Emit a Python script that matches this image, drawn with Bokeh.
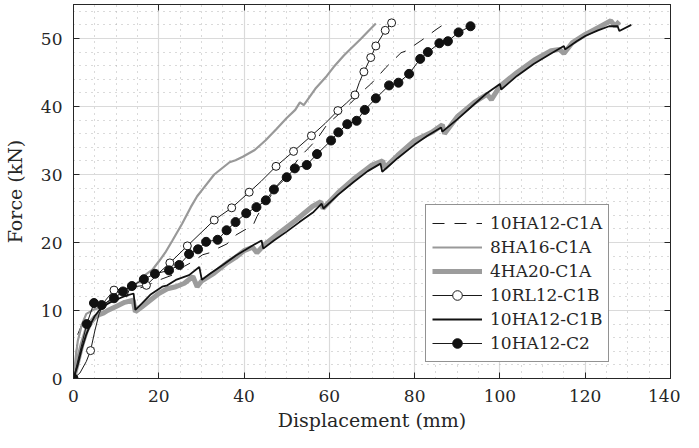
from bokeh.plotting import figure
from bokeh.models import LinearAxis, SingleIntervalTicker, Legend
from bokeh.embed import file_html
from bokeh.resources import INLINE

# ---------------- data ----------------
c1a_x = [0, 0.5, 1, 2, 3, 5, 7, 9, 11, 12.5, 13, 15, 17, 19, 21, 24, 26, 28, 30.3, 32, 34, 36,
         38.1, 40, 42.1, 43, 44.1, 46, 47.5, 49.2, 51, 53.1, 55, 57.1, 59.4, 61, 63, 65, 67,
         69.7, 71.5, 73.2, 75, 76.8, 78.5, 79.9, 82, 83.5, 85, 86.4]
c1a_y = [0, 3, 6.5, 8, 9.5, 10.3, 10.8, 11.8, 12.4, 12.0, 13, 13.2, 13.6, 14.2, 14.7, 15.4, 16.5,
         17.2, 18.2, 18.5, 19.2, 19.8, 21.1, 21.8, 22.5, 23.8, 25.0, 26.6, 28.2, 29.4, 30.8,
         32.6, 33.8, 35.2, 37.3, 38.2, 39.3, 40.5, 41.8, 43.3, 44.5, 45.7, 46.8, 47.9, 48.3,
         49.0, 49.9, 50.6, 51.3, 51.9]

ha16_x = [0, 0.5, 1, 2, 3, 5, 7, 9, 11, 13, 15.3, 17, 18.5, 20, 21.5, 23.2, 25.5, 27.5, 29,
          30.5, 33, 36.6, 38, 39.7, 42.5, 45, 47.6, 50, 52, 53.1, 54, 56.7, 59.4, 61, 63.4,
          65, 67.3, 69, 70.9]
ha16_y = [0, 3, 5.5, 8, 9.5, 10.2, 10.5, 11.5, 12.5, 13.2, 14.2, 15.3, 16, 17.2, 18.5, 20.3,
          22.8, 25.2, 26.8, 28.0, 30.0, 31.8, 32.1, 32.6, 33.6, 35, 36.7, 38.3, 39.5, 40.6, 40.2,
          42.6, 44.5, 45.8, 47.5, 48.5, 49.9, 51, 52.2]

ha20_x = [0, 1, 2, 3, 4, 5, 6, 7, 8, 10, 12, 14, 14.5, 16, 18, 20, 22, 24, 26, 28, 29, 30, 33,
          36, 38, 40, 42, 43, 45, 48, 52, 56, 58, 58.5, 62, 66, 70, 72.5, 73, 76, 80, 84,
          86.5, 87, 90, 94, 97, 98, 100, 104, 108, 112, 114, 115, 117, 120, 123, 126, 127, 128]
ha20_y = [0, 2.5, 5, 7, 8.2, 9, 9.4, 9.6, 10, 10.6, 11.2, 11.5, 9.8, 10.5, 11.5, 12.5, 13.2,
          13.5, 14, 15, 13.5, 14.3, 15.5, 17, 17.8, 18.8, 19.3, 18.5, 19.8, 21.3, 23.2, 25.3,
          26.0, 25.0, 27.3, 29.5, 31.4, 32.0, 31.0, 32.8, 35, 36.2, 37.3, 36, 38.5, 40.6, 41.8,
          41.0, 43, 45, 46.8, 48.2, 48.4, 47.8, 49.4, 50.6, 51.6, 52.6, 51.8, 52.5]

rl12_x = [0, 1.5, 3, 4.0, 5, 6, 7.5, 9.5, 12, 14, 17.1, 20, 22.6, 26.7, 33.0, 37.1, 41.2, 44,
          47.5, 51.6, 55.8, 59, 62.0, 64, 66.0, 67, 68.1, 69.7, 70.9, 73.1, 74.6]
rl12_y = [0, 0.8, 2.5, 4.1, 7, 9.5, 11.5, 13.0, 13.2, 13.5, 13.7, 15.5, 17.0, 19.5, 23.3, 25.1,
          27.4, 29, 31.2, 33.4, 35.7, 37.5, 39.4, 40.5, 41.7, 43.5, 45.1, 47.2, 48.9, 51.2, 52.3]
rl12_mx = [0, 4.0, 9.5, 17.1, 22.6, 26.7, 33.0, 37.1, 41.2, 47.5, 51.6, 55.8, 62.0, 66.0, 68.1,
           69.7, 70.9, 73.1, 74.6]
rl12_my = [0, 4.1, 13.0, 13.7, 17.0, 19.5, 23.3, 25.1, 27.4, 31.2, 33.4, 35.7, 39.4, 41.7, 45.1,
           47.2, 48.9, 51.2, 52.3]

c1b_x = [0, 1, 2, 3, 4, 5, 6, 7, 8, 10, 12, 14.1, 14.5, 16, 18, 20.8, 22, 24, 27.1, 29.5, 30.1,
         32, 35, 38.1, 42.1, 44.1, 44.5, 47, 50, 53, 56.3, 58.2, 58.6, 62, 65.7, 69, 72.0,
         72.4, 76, 80, 83, 86.2, 86.5, 90, 94.1, 97, 100.0, 100.3, 104, 108, 112, 115.0,
         115.3, 118, 120.1, 123, 125.6, 127.6, 128.0, 130.8]
c1b_y = [0, 2, 4.5, 6.5, 8, 9.2, 10, 10.6, 11, 11.6, 12.1, 12.5, 10.1, 11, 12.3, 13.5, 13.7,
         14.5, 15.2, 16.4, 14.5, 15.4, 16.7, 18.1, 19.6, 20.3, 19.1, 20.3, 21.6, 23.0, 24.5,
         25.7, 25.0, 27, 28.9, 30.5, 31.6, 30.4, 32.4, 34.4, 35.7, 36.9, 36.3, 38.1, 40.4, 42,
         43.3, 42.5, 44.5, 46.3, 47.8, 48.9, 48.4, 49.6, 50.4, 51.2, 51.8, 51.8, 51.1, 52.0]

c2_x = [0, 3.1, 4.8, 6.6, 9.5, 11.6, 13.7, 16.5, 19.1, 22.4, 24.8, 27.1, 29.2, 31.1, 33.8, 35.9,
        38.0, 40.5, 42.9, 45.1, 47.0, 50.0, 51.9, 54.7, 57.1, 60.4, 62.1, 64.2, 66.4, 68.3,
        70.9, 74.0, 76.2, 78.7, 81.3, 83.1, 85.8, 87.8, 90.3, 93.1]
c2_y = [0, 8.0, 11.1, 10.8, 11.8, 12.8, 13.6, 14.6, 15.4, 15.9, 16.7, 18.3, 19.0, 20.1, 20.4,
        21.8, 23.0, 24.3, 25.2, 26.2, 27.8, 29.6, 30.9, 31.4, 33.0, 35.0, 36.2, 37.4, 37.9,
        39.5, 41.2, 43.1, 43.5, 44.8, 47.0, 48.0, 49.3, 49.6, 50.9, 51.8]

x_label = "Displacement (mm)"
y_label = "Force (kN)"

# ---------------- figure ----------------
TXT = "#262626"
SERIF = "DejaVu Serif"

p = figure(frame_width=597, frame_height=374, x_range=(0, 140), y_range=(0, 55),
           output_backend="svg", toolbar_location=None,
           min_border_left=67, min_border_right=10, min_border_top=0, min_border_bottom=50)
p.outline_line_color = TXT
p.outline_line_width = 1
p.background_fill_color = "white"
p.border_fill_color = "white"

xt = SingleIntervalTicker(interval=20, num_minor_ticks=4)
yt = SingleIntervalTicker(interval=10, num_minor_ticks=5)
p.xaxis.ticker = xt
p.yaxis.ticker = yt
p.xgrid.ticker = xt
p.ygrid.ticker = yt

for g in (p.xgrid, p.ygrid):
    g.grid_line_color = "#dadada"
    g.grid_line_width = 1.2
    g.minor_grid_line_color = "#b4b4b4"
    g.minor_grid_line_dash = "1 5"
    g.minor_grid_line_width = 1

for ax in (p.xaxis[0], p.yaxis[0]):
    ax.axis_line_color = TXT
    ax.major_tick_in = 6
    ax.major_tick_out = 0
    ax.major_tick_line_color = TXT
    ax.minor_tick_line_color = None
    ax.major_label_text_font = SERIF
    ax.major_label_text_font_size = "17px"
    ax.major_label_text_color = TXT
    ax.axis_label_text_font = SERIF
    ax.axis_label_text_font_size = "19px"
    ax.axis_label_text_font_style = "normal"
    ax.axis_label_text_color = TXT
p.xaxis.axis_label = x_label
p.yaxis.axis_label = y_label
p.xaxis.major_label_standoff = 7
p.xaxis.axis_label_standoff = 4
p.yaxis.major_label_standoff = 7
p.yaxis.axis_label_standoff = 12

for loc, tk in (("above", xt), ("right", yt)):
    a = LinearAxis(ticker=tk, major_label_text_font_size="1px", major_label_text_color=None,
                   major_tick_in=6, major_tick_out=0, minor_tick_line_color=None,
                   axis_line_color=TXT, major_tick_line_color=TXT, major_label_standoff=0)
    p.add_layout(a, loc)

# ---------------- series ----------------
r1 = p.line(c1a_x, c1a_y, line_color="#1a1a1a", line_width=1, line_dash="12 10")
r2 = p.line(ha16_x, ha16_y, line_color="#999999", line_width=2.2)
r3 = p.line(ha20_x, ha20_y, line_color="#9c9c9c", line_width=5)
r4l = p.line(rl12_x, rl12_y, line_color="#1a1a1a", line_width=1)
r4m = p.scatter(rl12_mx, rl12_my, marker="circle", size=8, fill_color="white",
                line_color="#1a1a1a", line_width=1)
r5 = p.line(c1b_x, c1b_y, line_color="#111111", line_width=1.8)
r6l = p.line(c2_x, c2_y, line_color="#1a1a1a", line_width=1)
r6m = p.scatter(c2_x, c2_y, marker="circle", size=9, fill_color="#111111",
                line_color="#111111", line_width=1)

legend = Legend(items=[("10HA12-C1A", [r1]), ("8HA16-C1A", [r2]), ("4HA20-C1A", [r3]),
                       ("10RL12-C1B", [r4l, r4m]), ("10HA12-C1B", [r5]),
                       ("10HA12-C2", [r6l, r6m])],
                location=(352, 16))
legend.label_text_font = SERIF
legend.label_text_font_size = "17px"
legend.label_text_color = TXT
legend.glyph_width = 50
legend.glyph_height = 24
legend.label_height = 24
legend.spacing = 0
legend.padding = 6
legend.margin = 0
legend.label_standoff = 8
legend.border_line_color = TXT
legend.border_line_width = 1
legend.background_fill_color = "white"
legend.background_fill_alpha = 1
p.add_layout(legend, "center")

open("out.html", "w").write(file_html(p, INLINE))
